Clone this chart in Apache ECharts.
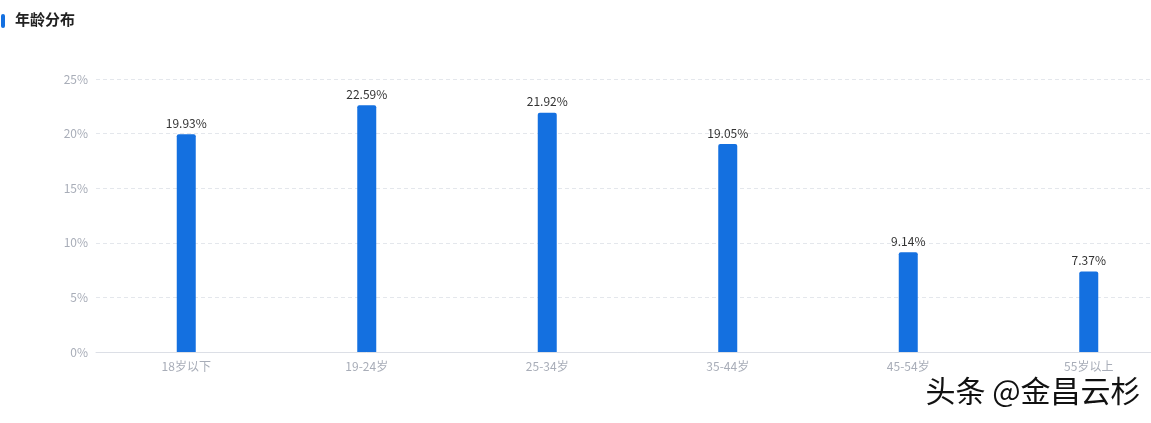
<!DOCTYPE html>
<html><head><meta charset="utf-8">
<script src="https://cdn.jsdelivr.net/npm/echarts@6/dist/echarts.min.js"></script>
<style>html,body{margin:0;padding:0;background:#fff;overflow:hidden;width:1151px;height:423px}#c{width:1179px;height:423px}</style>
</head><body><div id="c"></div>
<script>
const categories = ['18岁以下','19-24岁','25-34岁','35-44岁','45-54岁','55岁以上'];
const values = [19.93, 22.59, 21.92, 19.05, 9.14, 7.37];
const yTicks = [0, 5, 10, 15, 20, 25];
const FONT = '"Noto Sans CJK SC", "Noto Sans", sans-serif';
const chart = echarts.init(document.getElementById('c'));
chart.setOption({
  animation: false,
  textStyle: { fontFamily: FONT },
  graphic: [
    { type: 'rect', left: 1, top: 14, shape: { width: 4, height: 14, r: 2 }, style: { fill: '#1470e0' } },
    { type: 'text', left: 15, top: 12, style: { text: '年龄分布', font: 'bold 15px ' + FONT, fill: '#222' } },
    { type: 'text', left: 925, top: 375, style: { text: '头条 @金昌云杉', font: '30px ' + FONT, fill: '#111', stroke: '#fff', lineWidth: 1, shadowColor: 'rgba(0,0,0,0.35)', shadowBlur: 2, shadowOffsetX: 1, shadowOffsetY: 1 } }
  ],
  grid: { left: 96, right: 0, top: 79, bottom: 71 },
  xAxis: {
    type: 'category', data: categories,
    axisLine: { lineStyle: { color: '#dcdfe6' } },
    axisTick: { show: false },
    axisLabel: { color: '#a8adb8', fontSize: 12, margin: 8 }
  },
  yAxis: {
    type: 'value', min: yTicks[0], max: yTicks[yTicks.length - 1], interval: 5,
    axisLine: { show: false }, axisTick: { show: false },
    axisLabel: { formatter: '{value}%', color: '#a8adb8', fontSize: 12, margin: 8 },
    splitLine: { lineStyle: { type: [4, 3], color: '#e4e7ec' } }
  },
  series: [{
    type: 'bar', data: values, barWidth: 19,
    itemStyle: { color: '#1470e0', borderRadius: [2, 2, 0, 0] },
    label: { show: true, position: 'top', formatter: p => p.value.toFixed(2) + '%', color: '#333', fontSize: 12, distance: 5 }
  }]
});
</script></body></html>
